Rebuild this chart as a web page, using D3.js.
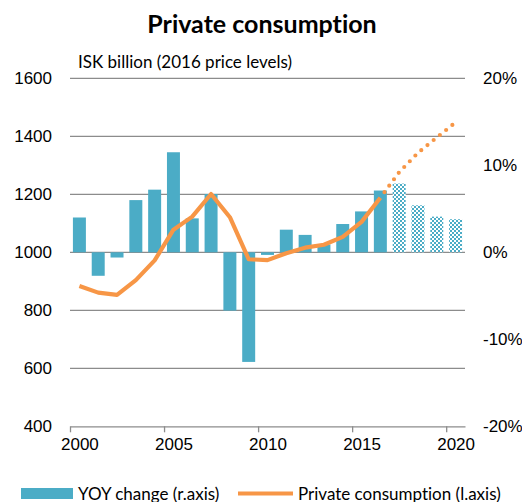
<!DOCTYPE html>
<html>
<head>
<meta charset="utf-8">
<script src="https://cdn.jsdelivr.net/npm/d3@7"></script>
<style>
  html, body { margin: 0; padding: 0; background: #fff; }
  svg { display: block; font-family: Lato, "Open Sans", sans-serif; font-variant-ligatures: none; }
</style>
</head>
<body>
<svg id="chart" width="522" height="502"></svg>
<script>
// Years on the category axis
const years = [2000, 2001, 2002, 2003, 2004, 2005, 2006, 2007, 2008, 2009, 2010,
               2011, 2012, 2013, 2014, 2015, 2016, 2017, 2018, 2019, 2020];
// Year-on-year change, % (right axis)
const yoyChange = [4.0, -2.7, -0.6, 6.0, 7.2, 11.5, 3.9, 6.7, -6.7, -12.6, -0.3,
                   2.6, 2.0, 0.9, 3.25, 4.7, 7.1, 7.9, 5.4, 4.1, 3.8];
// Private consumption, ISK billion at 2016 prices (left axis)
const consumption = [884, 861, 853, 904, 972, 1078, 1123, 1201, 1121, 976, 973,
                     997, 1016, 1026, 1053, 1105, 1188, 1276, 1343, 1396, 1448];
// First forecast year
const forecastFrom = 2017;
// Axis ticks
const leftTicks = [400, 600, 800, 1000, 1200, 1400, 1600];
const rightTicks = [-20, -10, 0, 10, 20];
const yearTicks = [2000, 2005, 2010, 2015, 2020];

const blue = "#4BACC6";
const orange = "#F79646";
const grid = "#8C8C8C";
const fs = 17;

const svg = d3.select("#chart");
const plot = { left: 70, right: 465, top: 78.3, bottom: 426.3 };

const x = d3.scaleBand().domain(years).range([plot.left, plot.right])
  .paddingInner(0.31).paddingOuter(0.155);
const step = x.step();
const xEdge = d3.scaleLinear().domain([2000, 2021]).range([plot.left, plot.right]);
const yL = d3.scaleLinear().domain([400, 1600]).range([plot.bottom, plot.top]);
const yR = d3.scaleLinear().domain([-20, 20]).range([plot.bottom, plot.top]);

// Checkerboard fill for forecast bars
const defs = svg.append("defs");
const pat = defs.append("pattern").attr("id", "checker")
  .attr("width", 4).attr("height", 4).attr("patternUnits", "userSpaceOnUse");
pat.append("rect").attr("width", 4).attr("height", 4).attr("fill", "#fff");
pat.append("rect").attr("width", 2).attr("height", 2).attr("fill", blue);
pat.append("rect").attr("x", 2).attr("y", 2).attr("width", 2).attr("height", 2).attr("fill", blue);

// Title and unit label
svg.append("text").attr("x", 262).attr("y", 33).attr("text-anchor", "middle")
  .attr("font-size", 25).attr("font-weight", "bold").attr("fill", "#000")
  .text("Private consumption");
svg.append("text").attr("x", 78).attr("y", 68)
  .attr("font-size", fs).attr("fill", "#000")
  .text("ISK billion (2016 price levels)");

// Horizontal gridlines
svg.append("g").selectAll("line").data(leftTicks.slice(1)).join("line")
  .attr("x1", plot.left).attr("x2", plot.right)
  .attr("y1", d => yL(d)).attr("y2", d => yL(d))
  .attr("stroke", grid).attr("stroke-width", 1.3);

// Bottom axis: ticks on category boundaries, labels centred in the category
const xAxis = svg.append("g").attr("transform", `translate(0,${plot.bottom})`)
  .call(d3.axisBottom(xEdge).tickValues(yearTicks).tickFormat(d3.format("d"))
    .tickSize(6).tickSizeOuter(0).tickPadding(6));
xAxis.select(".domain").attr("stroke", grid).attr("stroke-width", 1.3);
xAxis.selectAll(".tick line").attr("stroke", grid).attr("stroke-width", 1.3);
xAxis.selectAll(".tick text").attr("dx", step / 2).attr("font-size", fs)
  .attr("fill", "#000").attr("font-family", null);

// Left axis labels
const lAxis = svg.append("g").attr("transform", `translate(${plot.left},0)`)
  .call(d3.axisLeft(yL).tickValues(leftTicks).tickFormat(d3.format("d"))
    .tickSize(0).tickPadding(18));
lAxis.select(".domain").remove();
lAxis.selectAll(".tick text").attr("font-size", fs).attr("fill", "#000").attr("font-family", null);

// Right axis labels
const rAxis = svg.append("g").attr("transform", `translate(${plot.right},0)`)
  .call(d3.axisRight(yR).tickValues(rightTicks).tickSize(0).tickPadding(18)
    .tickFormat(d => d + "%"));
rAxis.select(".domain").remove();
rAxis.selectAll(".tick text").attr("font-size", fs).attr("fill", "#000").attr("font-family", null);

// YOY bars
const rows = years.map((yr, i) => ({ yr, v: yoyChange[i], c: consumption[i] }));
svg.append("g").selectAll("rect").data(rows).join("rect")
  .attr("x", d => x(d.yr))
  .attr("width", x.bandwidth())
  .attr("y", d => yR(Math.max(0, d.v)))
  .attr("height", d => Math.abs(yR(d.v) - yR(0)))
  .attr("fill", d => d.yr >= forecastFrom ? "url(#checker)" : blue);

// Consumption line: solid history, dotted forecast
const line = d3.line().x(d => x(d.yr) + x.bandwidth() / 2).y(d => yL(d.c));
const hist = rows.filter(d => d.yr < forecastFrom);
const fc = rows.filter(d => d.yr >= forecastFrom - 1);
svg.append("path").datum(hist).attr("d", line)
  .attr("fill", "none").attr("stroke", orange).attr("stroke-width", 4.2)
  .attr("stroke-linejoin", "round");
svg.append("path").datum(fc).attr("d", line)
  .attr("fill", "none").attr("stroke", orange).attr("stroke-width", 4.2)
  .attr("stroke-linecap", "round").attr("stroke-dasharray", "0 8")
  .attr("stroke-dashoffset", -7);

// Legend
const lg = svg.append("g");
lg.append("rect").attr("x", 21).attr("y", 488).attr("width", 52).attr("height", 11).attr("fill", blue);
lg.append("text").attr("x", 78).attr("y", 499.5).attr("font-size", fs).attr("fill", "#000")
  .text("YOY change (r.axis)");
lg.append("line").attr("x1", 238).attr("x2", 293).attr("y1", 493.5).attr("y2", 493.5)
  .attr("stroke", orange).attr("stroke-width", 4.2);
lg.append("text").attr("x", 298).attr("y", 499.5).attr("font-size", fs).attr("fill", "#000")
  .text("Private consumption (l.axis)");
</script>
</body>
</html>
